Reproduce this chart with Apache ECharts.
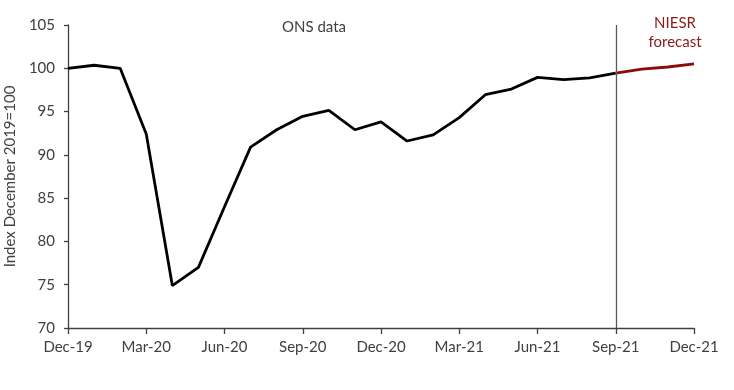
<!DOCTYPE html>
<html>
<head>
<meta charset="utf-8">
<script src="https://cdn.jsdelivr.net/npm/echarts@6/dist/echarts.min.js"></script>
<style>html,body{margin:0;padding:0;background:#fff}#c{width:734px;height:390px}</style>
</head>
<body>
<div id="c"></div>
<script>
const months = ['Dec-19','Jan-20','Feb-20','Mar-20','Apr-20','May-20','Jun-20','Jul-20','Aug-20','Sep-20','Oct-20','Nov-20','Dec-20','Jan-21','Feb-21','Mar-21','Apr-21','May-21','Jun-21','Jul-21','Aug-21','Sep-21','Oct-21','Nov-21','Dec-21'];
const onsData = [100.0,100.35,100.0,92.4,74.9,77.0,84.0,90.9,92.9,94.45,95.15,92.9,93.8,91.6,92.3,94.3,96.95,97.6,98.95,98.7,98.9,99.45,null,null,null];
const niesrForecast = [null,null,null,null,null,null,null,null,null,null,null,null,null,null,null,null,null,null,null,null,null,99.45,99.9,100.15,100.5];
const forecastStart = 'Sep-21';
const yTicks = {min:70, max:105, interval:5};

const chart = echarts.init(document.getElementById('c'));
const font = 'Lato';
chart.setOption({
  animation:false,
  textStyle:{fontFamily:font},
  grid:{left:68,right:40,top:25,bottom:62,containLabel:false,outerBoundsMode:'none'},
  xAxis:{
    type:'category', data:months, boundaryGap:false,
    axisLine:{lineStyle:{color:'#404040',width:1.3}},
    axisTick:{interval:2,length:6,lineStyle:{color:'#404040',width:1.3}},
    axisLabel:{interval:2,color:'#404040',fontSize:15,fontFamily:font,margin:12}
  },
  yAxis:{
    type:'value', min:yTicks.min, max:yTicks.max, interval:yTicks.interval,
    name:'Index December 2019=100', nameLocation:'middle', nameGap:45,
    nameTextStyle:{color:'#404040',fontSize:15,fontFamily:font},
    axisLine:{show:true,lineStyle:{color:'#404040',width:1.3}},
    axisTick:{show:true,length:4,lineStyle:{color:'#404040',width:1.3}},
    axisLabel:{color:'#404040',fontSize:15,fontFamily:font,margin:13},
    splitLine:{show:false}
  },
  series:[
    {name:'ONS data',type:'line',data:onsData,symbol:'none',lineStyle:{color:'#000',width:2.8},z:3,
     markLine:{silent:true,symbol:['none','none'],label:{show:false},lineStyle:{color:'#595959',width:1.3,type:'solid'},data:[{xAxis:forecastStart}]}
    },
    {name:'NIESR forecast',type:'line',data:niesrForecast,symbol:'none',lineStyle:{color:'#8b0a0a',width:2.8},z:4}
  ],
  graphic:[
    {type:'text',x:314,y:20,style:{text:'ONS data',fill:'#404040',font:'15px Lato',align:'center',verticalAlign:'top'}},
    {type:'text',x:675,y:14,style:{text:'NIESR\nforecast',fill:'#8b1a1a',font:'15px Lato',align:'center',verticalAlign:'top',lineHeight:19}}
  ]
});
</script>
</body>
</html>
